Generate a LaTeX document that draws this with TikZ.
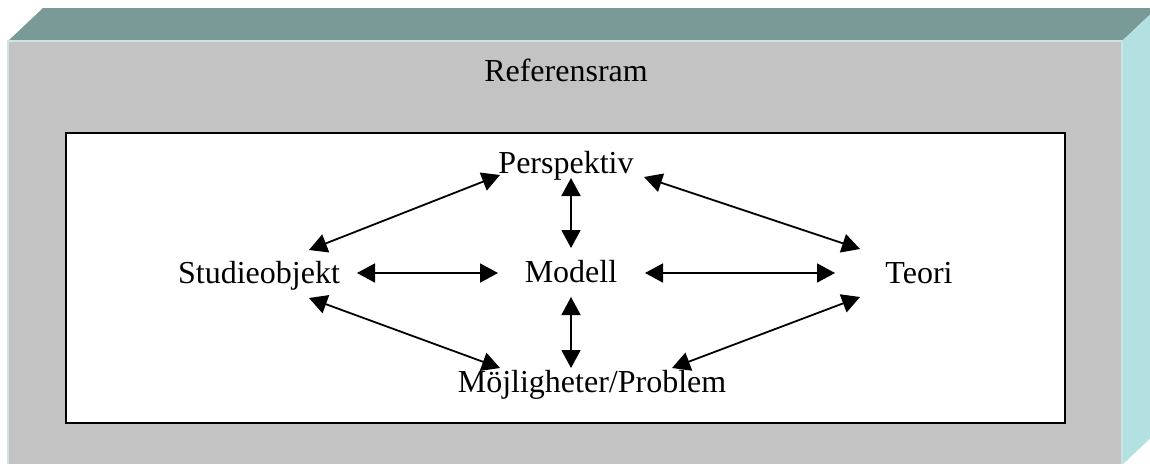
\documentclass[tikz,border=0pt]{standalone}
\usepackage{fontspec}
\setmainfont{Liberation Serif}
\usetikzlibrary{arrows.meta}
\definecolor{colFront}{RGB}{195,195,195}
\definecolor{colTop}{RGB}{122,154,152}
\definecolor{colSide}{RGB}{179,224,224}
\definecolor{colEdge}{RGB}{205,228,228}
\tikzset{
  boxFace/.style={draw=none},
  innerBox/.style={
    draw=black, line width=2.4pt, fill=white
  },
  termLabel/.style={
    font=\fontsize{32}{38}\selectfont, inner sep=0pt, anchor=base
  },
  dblarr/.style={
    {Triangle[length=18pt,width=19pt]}-{Triangle[length=18pt,width=19pt]}, line width=1.8pt, color=black
  }
}
\begin{document}
\begin{tikzpicture}[x=1pt,y=-1pt]

  \useasboundingbox (0,0) rectangle (1150,463);
  \clip (0,0) rectangle (1150,463);

  % 3d frame
  \fill[colTop] (8,41) -- (43,8) -- (1157,8) -- (1122,41) -- cycle;
  \fill[colSide] (1122,41) -- (1157,8) -- (1157,432) -- (1122,465) -- cycle;
  \fill[colFront] (8,41) rectangle (1122,465);
  \draw[colEdge, line width=1.2pt] (8,465) -- (8,41) -- (1122,41) -- (1122,465);
  \node[termLabel] (title) at (566,81) {Referensram};

  % inner white box
  \draw[innerBox] (66,133) rectangle (1065,423);

  % terms
  \node[termLabel] (persp) at (566,173) {Perspektiv};
  \node[termLabel] (stud)  at (259,283) {Studieobjekt};
  \node[termLabel] (model) at (571,282) {Modell};
  \node[termLabel] (teori) at (919,283) {Teori};
  \node[termLabel] (moj)   at (592,392) {Möjligheter/Problem};

  % horizontal and vertical links
  \draw[dblarr] ([shift={(98,-10)}]stud.base) -- ([shift={(-73,-9)}]model.base);
  \draw[dblarr] ([shift={(74,-9)}]model.base) -- ([shift={(-84,-10)}]teori.base);
  \draw[dblarr] ([shift={(5,5)}]persp.base) -- ([shift={(0,-34)}]model.base);
  \draw[dblarr] ([shift={(0,15)}]model.base) -- ([shift={(-21,-24)}]moj.base);

  % diagonal links
  \draw[dblarr] ([shift={(-66,2)}]persp.base) -- ([shift={(50,-33)}]stud.base);
  \draw[dblarr] ([shift={(78,4)}]persp.base) -- ([shift={(-59,-34)}]teori.base);
  \draw[dblarr] ([shift={(50,15)}]stud.base) -- ([shift={(-92,-24)}]moj.base);
  \draw[dblarr] ([shift={(-59,14)}]teori.base) -- ([shift={(80,-24)}]moj.base);

\end{tikzpicture}
\end{document}
